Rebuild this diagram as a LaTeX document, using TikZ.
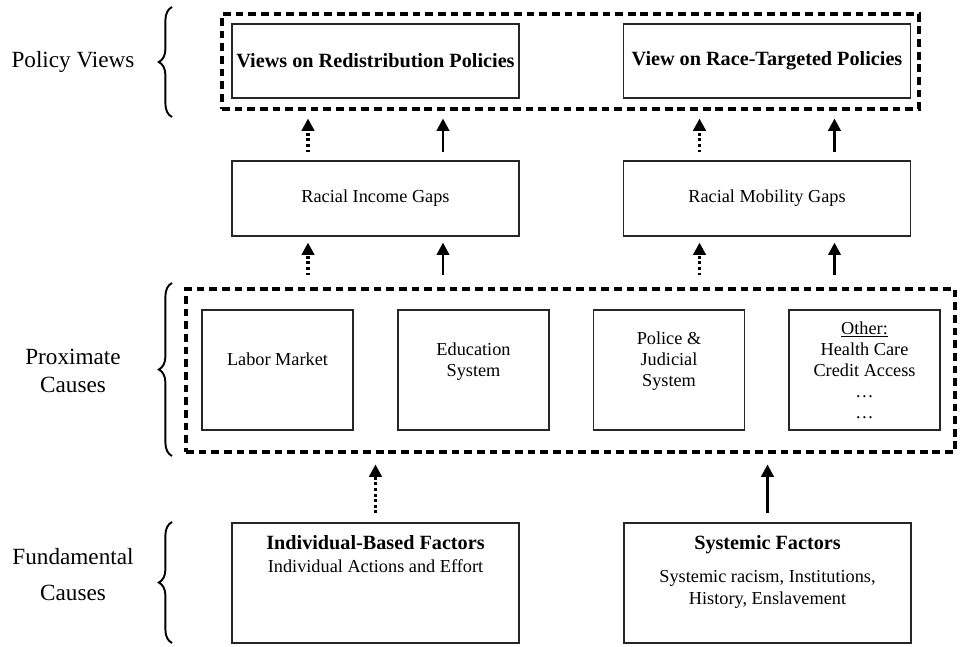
\documentclass[tikz,border=0pt]{standalone}
\usepackage{fontspec}
\setmainfont{Liberation Serif}
\usetikzlibrary{arrows.meta,positioning,calc,decorations.pathreplacing}

\begin{document}
\begin{tikzpicture}
[x=0.02cm, y=-0.02cm, font=\fontsize{10.4}{12}\selectfont, line width=0.7pt,
>={Triangle[length=7pt,width=7pt]},
box/.style={rectangle, draw=black!85, line width=0.7pt, inner sep=2pt, align=center},
toplayer/.style={box, minimum width=5.74cm, minimum height=1.48cm, font=\fontsize{11.5}{13}\selectfont\bfseries},
gapbox/.style={box, minimum width=5.74cm, minimum height=1.5cm},
causebox/.style={box, minimum width=3.02cm, minimum height=2.4cm},
basebox/.style={box, minimum width=5.74cm, minimum height=2.4cm, inner sep=0pt},
group/.style={rectangle, draw, line width=1.8pt, dash pattern=on 4.4pt off 2.8pt, inner sep=0pt},
solidarrow/.style={->, line width=1.6pt},
dotarrow/.style={->, line width=1.8pt, dash pattern=on 1.7pt off 1.5pt},
layerbrace/.style={decorate, decoration={brace, amplitude=7.5pt}, line width=1.1pt},
layerlabel/.style={align=center, font=\fontsize{13.2}{16}\selectfont}]

\useasboundingbox (0,0) rectangle (960,646);

% policy views
\node[group, minimum width=13.94cm, minimum height=1.9cm] (policy) at (570.5,61.5) {};
\node[toplayer] (redist) at (375.5,61) {Views on Redistribution Policies};
\node[toplayer] (race) at (767,61) {View on Race-Targeted Policies};

% gaps
\node[gapbox] (income) at (375.5,198.5) {Racial Income Gaps};
\node[gapbox] (mobility) at (767,198.5) {Racial Mobility Gaps};

% proximate causes
\node[group, minimum width=15.38cm, minimum height=3.26cm] (proximate) at (570.5,370.5) {};
\node[causebox] (labor) at (277.5,370) {Labor Market\\ \mbox{}};
\node[causebox] (educ) at (473.5,370) {Education\\System\\ \mbox{}};
\node[causebox] (police) at (669,370) {Police \&\\Judicial\\System\\ \mbox{}};
\node[causebox] (other) at (864.5,370) {\underline{Other:}\\Health Care\\Credit Access\\\ldots\\\ldots};

% fundamental causes
\node[basebox] (indiv) at (375.5,583) {\parbox[t][1.9cm][t]{5.5cm}{\centering
  {\fontsize{11.5}{13}\selectfont\bfseries Individual-Based Factors\par}
  \fontsize{10.4}{13}\selectfont Individual Actions and Effort}};
\node[basebox] (syst) at (767.5,583) {\parbox[t][1.9cm][t]{5.5cm}{\centering
  {\fontsize{11.5}{13}\selectfont\bfseries Systemic Factors\par}\vspace{7pt}
  \fontsize{10.4}{12}\selectfont Systemic racism, Institutions,\\History, Enslavement}};

\foreach \g/\t in {income/policy, mobility/policy} {
  \draw[dotarrow, shorten <=4.5pt, shorten >=4.5pt] ([xshift=-1.35cm]\g.north) -- ([xshift=-1.35cm]\g.north |- \t.south);
  \draw[solidarrow, shorten <=4.5pt, shorten >=4.5pt] ([xshift=1.35cm]\g.north) -- ([xshift=1.35cm]\g.north |- \t.south);
  \draw[dotarrow, shorten <=6.8pt, shorten >=3.4pt] ([xshift=-1.35cm]\g.south |- proximate.north) -- ([xshift=-1.35cm]\g.south);
  \draw[solidarrow, shorten <=6.8pt, shorten >=3.4pt] ([xshift=1.35cm]\g.south |- proximate.north) -- ([xshift=1.35cm]\g.south);
}

\draw[dotarrow, shorten <=5.1pt, shorten >=6.2pt] (indiv.north) -- (indiv.north |- proximate.south);
\draw[solidarrow, shorten <=5.1pt, shorten >=6.2pt] (syst.north) -- (syst.north |- proximate.south);

% layer labels
\draw[layerbrace] (172,117) -- (172,7);
\draw[layerbrace] (172,456) -- (172,283);
\draw[layerbrace] (172,643) -- (172,522);

\node[layerlabel] (lpolicy) at (73,62) {Policy Views};
\node[layerlabel] (lprox) at (73,371) {Proximate\\Causes};
\node[layerlabel] (lfund) at (73,574.5) {Fundamental\\[4pt]Causes};
\end{tikzpicture}
\end{document}
